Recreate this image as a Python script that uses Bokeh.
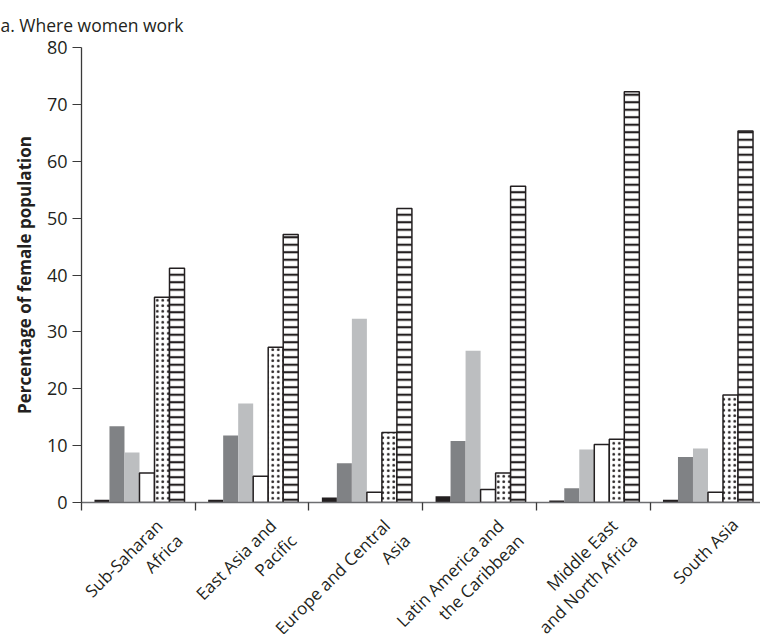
import math
from bokeh.plotting import figure
from bokeh.layouts import column
from bokeh.models import Range1d, FixedTicker, ColumnDataSource
from bokeh.core.properties import value
from bokeh.embed import file_html
from bokeh.resources import INLINE

# ---- data ----
regions = ["Sub-Saharan\nAfrica", "East Asia and\nPacific", "Europe and Central\nAsia",
           "Latin America and\nthe Caribbean", "Middle East\nand North Africa", "South Asia"]
series_1 = [0.5, 0.5, 0.9, 1.1, 0.35, 0.5]        # black
series_2 = [13.4, 11.8, 6.9, 10.8, 2.5, 8.0]       # dark grey
series_3 = [8.8, 17.4, 32.3, 26.7, 9.3, 9.5]       # light grey
series_4 = [5.2, 4.6, 1.8, 2.3, 10.2, 1.8]         # white
series_5 = [36.1, 27.3, 12.3, 5.2, 11.1, 18.9]     # dotted
series_6 = [41.2, 47.1, 51.7, 55.6, 72.2, 65.3]    # horizontal stripes
y_ticks = [0, 10, 20, 30, 40, 50, 60, 70, 80]
title_text = "a. Where women work"
y_label = "Percentage of female population"

# ---- layout ----
LEFT, TOP, AXB = 81, 42, 12
FRAME_W, FRAME_H = 679, 455
LAB_H = 629 - TOP - FRAME_H - AXB
cat_px = 113.7
x_end = FRAME_W / cat_px

FONT = "Open Sans"
TXT = "#231f20"

# ---- main chart ----
p = figure(frame_width=FRAME_W, frame_height=FRAME_H,
           output_backend="svg", toolbar_location=None,
           x_range=Range1d(0, x_end), y_range=Range1d(0, 80),
           min_border_left=LEFT, min_border_top=TOP, min_border_bottom=AXB,
           min_border_right=0)
p.outline_line_color = None
p.xgrid.visible = False
p.ygrid.visible = False
p.background_fill_color = "white"
p.border_fill_color = "white"

p.title.text = title_text
p.title.align = "left"
p.title.offset = -LEFT
p.title.standoff = 21
p.title.text_font = FONT
p.title.text_font_size = "17.5px"
p.title.text_font_style = "normal"
p.title.text_color = TXT

bw = 0.132
start = 0.114
series = [series_1, series_2, series_3, series_4, series_5, series_6]
styles = [
    dict(fill_color="#231f20", line_color=None),
    dict(fill_color="#808285", line_color=None),
    dict(fill_color="#bcbec0", line_color=None),
    dict(fill_color="white", line_color=TXT, line_width=1.5),
    dict(fill_color="white", line_color=TXT, line_width=1.5,
         hatch_pattern="dot", hatch_scale=5.5, hatch_weight=3, hatch_color=TXT),
    dict(fill_color="white", line_color=TXT, line_width=1.5,
         hatch_pattern="horizontal_line", hatch_scale=7.5, hatch_weight=2.2, hatch_color=TXT),
]
for k, (vals, st) in enumerate(zip(series, styles)):
    xs = [i + start + bw * (k + 0.5) for i in range(len(regions))]
    p.vbar(x=xs, top=vals, bottom=0, width=bw, **st)

# y axis
p.yaxis.ticker = FixedTicker(ticks=y_ticks)
p.yaxis.minor_tick_line_color = None
p.yaxis.major_tick_in = 0
p.yaxis.major_tick_out = 9
p.yaxis.axis_line_color = "#3a3a3a"
p.yaxis.major_tick_line_color = "#3a3a3a"
p.yaxis.axis_line_width = 1.3
p.yaxis.major_label_text_font = FONT
p.yaxis.major_label_text_font_size = "18px"
p.yaxis.major_label_text_color = TXT
p.yaxis.major_label_standoff = 5
p.yaxis.axis_label = y_label
p.yaxis.axis_label_text_font = FONT
p.yaxis.axis_label_text_font_style = "bold"
p.yaxis.axis_label_text_font_size = "17px"
p.yaxis.axis_label_text_color = TXT
p.yaxis.axis_label_standoff = 8

# x axis: category separators only (as minor ticks)
p.xaxis.ticker = FixedTicker(ticks=[], minor_ticks=list(range(len(regions) + 1)))
p.xaxis.major_tick_in = 0
p.xaxis.major_tick_out = 0
p.xaxis.minor_tick_in = 0
p.xaxis.minor_tick_out = 8
p.xaxis.minor_tick_line_color = "#3a3a3a"
p.xaxis.minor_tick_line_width = 1.3
p.xaxis.axis_line_color = "#6d6e71"
p.xaxis.axis_line_width = 1.5
p.xaxis.major_label_standoff = 0

# ---- rotated category labels strip (same x scale, frame aligned with main chart) ----
p2 = figure(frame_width=FRAME_W, frame_height=LAB_H, output_backend="svg",
            toolbar_location=None, x_range=p.x_range, y_range=Range1d(-LAB_H, 0),
            x_axis_type=None, y_axis_type=None,
            min_border_left=LEFT, min_border_right=0, min_border_top=0, min_border_bottom=0)
p2.outline_line_color = None
p2.xgrid.visible = False
p2.ygrid.visible = False
p2.background_fill_color = "white"
p2.border_fill_color = "white"

lx, ly, lt = [], [], []
for i, name in enumerate(regions):
    lines = name.split("\n")
    offs = [(21, 20), (41, 35)] if len(lines) == 2 else [(28, 19)]
    for line, (dx, dy) in zip(lines, offs):
        lx.append(i + 0.5 + dx / cat_px)
        ly.append(-(dy - AXB))
        lt.append(line)
p2.text(x="x", y="y", text="t", source=ColumnDataSource(dict(x=lx, y=ly, t=lt)),
        angle=math.pi / 4, text_align="right", text_baseline="middle",
        text_font=value(FONT), text_font_size=value("17px"), text_color=TXT)

layout = column(p, p2, spacing=0)
with open("out.html", "w") as f:
    f.write(file_html(layout, INLINE))
